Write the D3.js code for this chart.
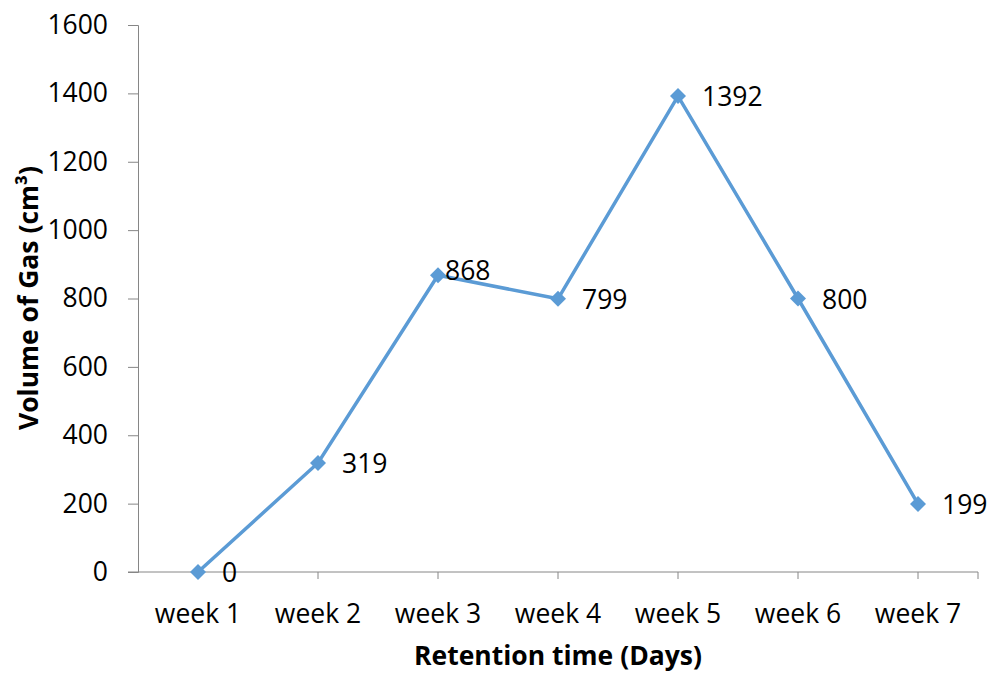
<!DOCTYPE html>
<html>
<head>
<meta charset="utf-8">
<script src="https://cdn.jsdelivr.net/npm/d3@7"></script>
<style>
  body { margin: 0; background: #fff; }
  svg { display: block; font-family: "Open Sans", sans-serif; }
</style>
</head>
<body>
<svg id="chart" width="990" height="674"></svg>
<script>
const categories = ["week 1", "week 2", "week 3", "week 4", "week 5", "week 6", "week 7"];
const gasVolume = [0, 319, 868, 799, 1392, 800, 199];
const yTicks = [0, 200, 400, 600, 800, 1000, 1200, 1400, 1600];

const svg = d3.select("#chart");
const plot = { left: 138, right: 978, top: 25, bottom: 572 };
const axisColor = "#868686";
const lineColor = "#5B9BD5";
const fs = 26.5;

const x = d3.scaleBand().domain(categories).range([plot.left, plot.right]);
const cx = c => x(c) + x.bandwidth() / 2;
const y = d3.scaleLinear().domain([0, 1600]).range([plot.bottom, plot.top]);

// y axis
const yAxis = svg.append("g").attr("transform", `translate(${plot.left},0)`)
  .call(d3.axisLeft(y).tickValues(yTicks).tickFormat(d3.format("d")).tickSize(10).tickPadding(20));
yAxis.select(".domain").attr("stroke", axisColor);
yAxis.selectAll(".tick line").attr("stroke", axisColor);
yAxis.selectAll(".tick text").attr("font-size", fs).attr("fill", "#000")
  .attr("font-family", "Open Sans, sans-serif");

// x axis: baseline plus ticks at each category and at the right end
const xg = svg.append("g");
xg.append("line").attr("x1", plot.left - 10).attr("x2", plot.right)
  .attr("y1", plot.bottom).attr("y2", plot.bottom).attr("stroke", axisColor);
xg.selectAll("line.tk").data(categories.concat(["end"])).enter().append("line")
  .attr("class", "tk")
  .attr("x1", d => d === "end" ? plot.right : cx(d))
  .attr("x2", d => d === "end" ? plot.right : cx(d))
  .attr("y1", plot.bottom).attr("y2", plot.bottom + 7).attr("stroke", axisColor);
xg.selectAll("text").data(categories).enter().append("text")
  .attr("x", d => cx(d)).attr("y", plot.bottom + 51)
  .attr("text-anchor", "middle").attr("font-size", fs).text(d => d);

// axis titles
svg.append("text").attr("x", 558).attr("y", 665).attr("text-anchor", "middle")
  .attr("font-size", fs).attr("font-weight", "bold").text("Retention time (Days)");
svg.append("text").attr("transform", "translate(38,298) rotate(-90)")
  .attr("text-anchor", "middle").attr("font-size", fs).attr("font-weight", "bold")
  .text("Volume of Gas (cm³)");

// line
const pts = categories.map((c, i) => ({ c, v: gasVolume[i] }));
svg.append("path").datum(pts)
  .attr("fill", "none").attr("stroke", lineColor).attr("stroke-width", 3.5)
  .attr("d", d3.line().x(d => cx(d.c)).y(d => y(d.v)));

// diamond markers
svg.selectAll("path.mk").data(pts).enter().append("path").attr("class", "mk")
  .attr("transform", d => `translate(${cx(d.c)},${y(d.v)})`)
  .attr("d", "M0,-8L8,0L0,8L-8,0Z").attr("fill", lineColor);

// value labels
svg.selectAll("text.lbl").data(pts).enter().append("text").attr("class", "lbl")
  .attr("x", d => cx(d.c) + (d.c === "week 3" ? 7 : 24))
  .attr("y", d => y(d.v) + (d.c === "week 3" ? -5 : 1))
  .attr("dy", "0.35em").attr("font-size", fs).text(d => d.v);
</script>
</body>
</html>
